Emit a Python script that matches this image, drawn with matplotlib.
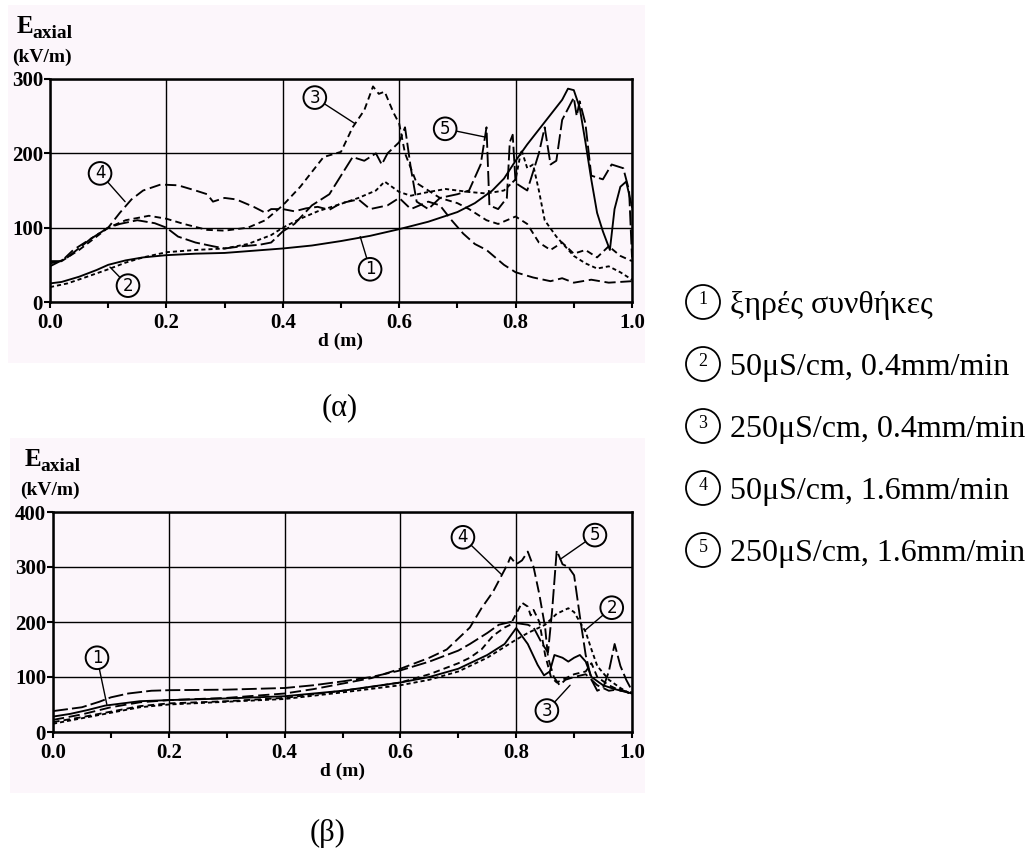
import matplotlib
matplotlib.use("Agg")
import matplotlib.pyplot as plt
from matplotlib.patches import Rectangle, Ellipse

# ---- panel (α): E_axial (kV/m) against d (m), y range 0-300
a1_d = [0, .02, .05, .08, .10, .13, .16, .20, .25, .30, .35, .40, .45, .50, .55, .60, .65, .70, .73, .76, .78,
        .80, .82, .84, .86, .88, .89, .90, .91, .92, .93, .94, .95, .962, .97, .98, .99, 1.0]
a1_e = [25, 27, 34, 43, 50, 56, 60, 63, 65, 66, 69, 72, 76, 82, 89, 98, 108, 121, 133, 150, 166,
        190, 212, 232, 252, 272, 287, 285, 262, 215, 165, 120, 95, 70, 125, 155, 162, 128]

a2_d = [0, .03, .06, .1, .13, .16, .2, .25, .3, .34, .38, .4, .43, .46, .5, .53, .56, .575, .6, .62, .65, .68,
        .7, .72, .75, .78, .8, .81, .82, .83, .84, .85, .87, .9, .92, .94, .96, .98, 1.0]
a2_e = [20, 25, 33, 44, 53, 60, 67, 70, 72, 78, 90, 100, 112, 122, 132, 140, 150, 162, 148, 143, 148, 152,
        150, 148, 146, 150, 165, 205, 180, 185, 150, 110, 88, 62, 52, 45, 48, 40, 30]

a3_d = [0, .02, .05, .08, .1, .13, .17, .2, .23, .27, .3, .34, .37, .4, .43, .45, .47, .5, .52, .54, .555, .565,
        .575, .59, .6, .61, .63, .65, .67, .7, .72, .75, .77, .8, .82, .84, .86, .88, .9, .92, .94, .96, .98, 1.0]
a3_e = [52, 55, 70, 88, 100, 110, 116, 112, 105, 97, 96, 100, 110, 130, 155, 175, 195, 202, 235, 258, 290, 280,
        283, 255, 240, 200, 160, 150, 140, 133, 125, 110, 105, 115, 105, 80, 70, 80, 65, 70, 60, 75, 62, 55]

a4_d = [0, .02, .04, .07, .1, .12, .14, .16, .19, .22, .25, .27, .28, .3, .32, .35, .37, .38, .4, .42, .44, .46,
        .48, .5, .53, .55, .58, .6, .62, .65, .67, .69, .71, .73, .75, .78, .8, .83, .86, .88, .9, .93, .96, 1.0]
a4_e = [55, 55, 70, 85, 100, 120, 138, 150, 158, 157, 150, 145, 135, 140, 138, 128, 120, 125, 125, 122, 126, 128,
        124, 133, 138, 125, 130, 140, 125, 135, 130, 110, 92, 78, 70, 50, 40, 33, 28, 32, 26, 30, 26, 28]

a5_d = [0, .03, .07, .1, .12, .15, .18, .2, .22, .25, .28, .3, .33, .36, .38, .4, .42, .45, .48, .5, .52, .54,
        .56, .57, .58, .6, .61, .62, .63, .65, .67, .7, .72, .74, .75, .755, .77, .785, .79, .795, .8, .82, .84,
        .85, .86, .87, .88, .9, .905, .91, .92, .93, .95, .965, .985, .995, 1.0]
a5_e = [48, 60, 85, 100, 105, 110, 106, 100, 88, 80, 75, 72, 75, 77, 80, 95, 105, 130, 145, 170, 195, 190,
        200, 185, 200, 215, 235, 180, 135, 125, 140, 145, 150, 185, 235, 130, 125, 140, 215, 225, 160, 150, 200,
        235, 185, 190, 245, 275, 250, 270, 240, 170, 165, 185, 180, 150, 60]

# ---- panel (β): y range 0-400
b1_d = [0, .03, .06, .09, .12, .15, .2, .3, .4, .5, .6, .65, .7, .75, .78, .8, .82, .837, .848, .858, .866,
        .88, .89, .9, .91, .92, .93, .95, .97, 1.0]
b1_e = [28, 33, 40, 48, 52, 56, 58, 61, 65, 75, 90, 100, 115, 140, 160, 189, 160, 122, 103, 110, 140,
        135, 128, 135, 140, 128, 100, 85, 78, 70]

b2_d = [0, .05, .1, .15, .2, .3, .4, .5, .6, .65, .7, .75, .8, .82, .85, .87, .89, .9, .91, .92, .93, .94,
        .96, .98, 1.0]
b2_e = [15, 25, 35, 45, 50, 55, 60, 72, 85, 95, 110, 135, 168, 180, 195, 215, 225, 218, 200, 182, 150, 120,
        95, 80, 68]

b3_d = [0, .05, .1, .15, .2, .3, .4, .5, .55, .6, .65, .7, .72, .74, .76, .78, .79, .8, .81, .82, .825, .83,
        .84, .85, .86, .87, .88, .9, .92, .93, .94, .96, .98, 1.0]
b3_e = [18, 27, 37, 47, 52, 56, 62, 75, 82, 90, 105, 125, 135, 150, 175, 190, 195, 215, 235, 228, 212, 222,
        200, 140, 100, 90, 95, 105, 110, 125, 100, 85, 75, 72]

b4_d = [0, .05, .1, .15, .2, .3, .4, .45, .5, .55, .6, .65, .68, .7, .72, .74, .76, .775, .785, .79, .8, .81,
        .82, .83, .84, .85, .855, .865, .875, .885, .9, .92, .94, .96, .98, 1.0]
b4_e = [22, 32, 45, 54, 58, 62, 70, 78, 88, 98, 115, 135, 150, 170, 190, 225, 255, 285, 305, 318, 305, 312,
        328, 300, 250, 190, 135, 100, 85, 95, 100, 105, 85, 75, 78, 68]

b5_d = [0, .05, .08, .1, .13, .17, .2, .3, .4, .45, .5, .55, .6, .65, .7, .72, .75, .77, .79, .8, .82, .83,
        .845, .855, .862, .87, .88, .89, .9, .91, .92, .93, .94, .95, .96, .97, .98, .99, 1.0]
b5_e = [38, 45, 55, 63, 70, 75, 76, 77, 80, 85, 92, 100, 112, 128, 148, 160, 180, 195, 200, 198, 195, 190,
        160, 145, 220, 330, 305, 300, 285, 210, 140, 95, 75, 80, 110, 160, 120, 95, 75]

x_ticks = [0.0, 0.2, 0.4, 0.6, 0.8, 1.0]
legend_texts = ["ξηρές συνθήκες", "50μS/cm, 0.4mm/min", "250μS/cm, 0.4mm/min",
                "50μS/cm, 1.6mm/min", "250μS/cm, 1.6mm/min"]

styles = ["-", (0, (2.2, 1.6)), (0, (3.5, 2.2)), (0, (6, 2.5)), (0, (8, 2.2))]
W, H = 1030, 851
bg = "#fcf6fb"
serif = "Liberation Serif"

fig = plt.figure(figsize=(W / 100, H / 100), dpi=100)


def rect(l, t, r, b):
    return [l / W, 1 - b / H, (r - l) / W, (b - t) / H]


def panel(box, area, series, ymax, notes, ylab_xy):
    # pale pink scanned-paper background behind the whole panel
    fig.patches.append(Rectangle((area[0], area[1]), area[2], area[3], transform=fig.transFigure,
                                 fc=bg, ec="none", zorder=-5))
    ax = fig.add_axes(box)
    ax.set_facecolor(bg)
    for (d, e), ls in zip(series, styles):
        ax.plot(d, e, color="black", lw=1.35, ls=ls)
    ax.set_xlim(0, 1)
    ax.set_ylim(0, ymax)
    ax.set_xticks(x_ticks)
    ax.set_xticks([0.1, 0.3, 0.5, 0.7, 0.9], minor=True)
    ax.set_yticks(range(0, ymax + 1, 100))
    ax.set_xticklabels(["%.1f" % t for t in x_ticks], fontfamily=serif, fontweight="bold", fontsize=15)
    ax.set_yticklabels([str(t) for t in range(0, ymax + 1, 100)], fontfamily=serif,
                       fontweight="bold", fontsize=15)
    ax.tick_params(which="both", direction="out", width=1.5, length=4)
    ax.tick_params(axis="x", pad=4)
    ax.tick_params(axis="y", pad=1)
    ax.grid(True, color="black", lw=1.0)
    for s in ax.spines.values():
        s.set_linewidth(1.8)
    ax.set_xlabel("d (m)", fontfamily=serif, fontweight="bold", fontsize=14, labelpad=0)
    for n, xy, xytext in notes:
        ax.annotate(str(n), xy=xy, xytext=xytext, ha="center", va="center",
                    fontsize=12, fontfamily="DejaVu Sans",
                    bbox=dict(boxstyle="circle,pad=0.14", fc=bg, ec="black", lw=1.4),
                    arrowprops=dict(arrowstyle="-", lw=1.0, color="black", shrinkA=0, shrinkB=0))
    x0, y0 = ylab_xy
    fig.text(x0 / W, 1 - y0 / H, "E", fontfamily=serif, fontweight="bold", fontsize=18, va="baseline")
    fig.text((x0 + 15) / W, 1 - (y0 + 5) / H, "axial", fontfamily=serif, fontweight="bold", fontsize=14,
             va="baseline")
    fig.text((x0 - 5) / W, 1 - (y0 + 29) / H, "(kV/m)", fontfamily=serif, fontweight="bold", fontsize=14,
             va="baseline")
    return ax


panel(rect(50, 79, 632, 302), [8 / W, 1 - 363 / H, 637 / W, 358 / H],
      [(a1_d, a1_e), (a2_d, a2_e), (a3_d, a3_e), (a4_d, a4_e), (a5_d, a5_e)], 300,
      [(4, (0.129, 135), (0.086, 173)), (3, (0.524, 240), (0.455, 275)), (2, (0.103, 47), (0.134, 22)),
       (1, (0.533, 88), (0.55, 44)), (5, (0.747, 222), (0.679, 233))], (17, 33))

panel(rect(53, 512, 632, 732), [10 / W, 1 - 793 / H, 635 / W, 355 / H],
      [(b1_d, b1_e), (b2_d, b2_e), (b3_d, b3_e), (b4_d, b4_e), (b5_d, b5_e)], 400,
      [(1, (0.093, 50), (0.076, 135)), (4, (0.775, 286), (0.708, 354)), (5, (0.876, 314), (0.936, 358)),
       (2, (0.919, 185), (0.965, 226)), (3, (0.893, 85), (0.853, 39))], (25, 466))

fig.text(340 / W, 1 - 408 / H, "(α)", fontfamily=serif, fontsize=22, ha="center", va="center")
fig.text(328 / W, 1 - 833 / H, "(β)", fontfamily=serif, fontsize=22, ha="center", va="center")

# legend with circled numbers
for i, txt in enumerate(legend_texts):
    yc = 302 + 62 * i
    fig.patches.append(Ellipse((703 / W, 1 - yc / H), 34 / W, 34 / H, transform=fig.transFigure,
                               fc="white", ec="black", lw=1.3))
    fig.text(703 / W, 1 - (yc - 3) / H, str(i + 1), fontfamily=serif, fontsize=13, ha="center", va="center")
    fig.text(730 / W, 1 - (yc + 4) / H, txt, fontfamily=serif, fontsize=23, ha="left", va="center")

fig.savefig("out.png", dpi=100, facecolor="white")
